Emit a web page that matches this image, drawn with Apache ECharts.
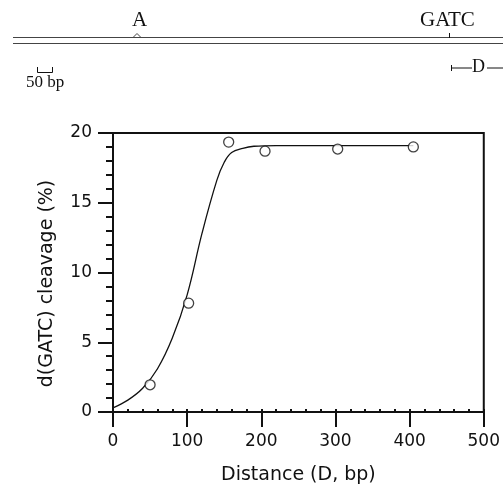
<!DOCTYPE html>
<html>
<head>
    <meta charset="UTF-8">
    <title>GATC cleavage vs distance</title>
    <script src="https://cdn.jsdelivr.net/npm/echarts@6/dist/echarts.min.js"></script>
    <style>
        html, body {margin: 0; padding: 0; background: #fff;}
        #main {width: 503px; height: 490px;}
    </style>
</head>
<body>
<div id="main"></div>
<script>
    // measured points (open circles)
    var pointX = [50, 102, 156, 205, 303, 405];
    var pointY = [1.95, 7.8, 19.35, 18.7, 18.85, 19.0];

    // fitted curve
    var curveX = [0, 20, 40, 60, 80, 100, 120, 140, 150, 160, 175, 190, 220, 260, 300, 350, 405];
    var curveY = [0.3, 0.85, 1.7, 3.1, 5.3, 8.4, 12.8, 16.6, 17.9, 18.6, 18.9, 19.05, 19.1, 19.1, 19.1, 19.1, 19.1];

    var xTicks = [0, 100, 200, 300, 400, 500];
    var yTicks = [0, 5, 10, 15, 20];

    var pts = pointX.map(function (x, i) { return [x, pointY[i]]; });
    var curve = curveX.map(function (x, i) { return [x, curveY[i]]; });

    var sans = 'DejaVu Sans';
    var ink = '#111';

    var chart = echarts.init(document.getElementById('main'));
    var option = {
        backgroundColor: '#fff',
        animation: false,
        grid: {
            left: 113, top: 133, right: 17, bottom: 76,
            show: true, borderColor: ink, borderWidth: 2
        },
        xAxis: [{
            type: 'value',
            min: xTicks[0], max: xTicks[xTicks.length - 1], interval: 100,
            name: 'Distance (D, bp)',
            nameLocation: 'middle', nameGap: 54,
            nameTextStyle: {fontFamily: sans, fontSize: 19, color: ink},
            axisLine: {show: true, lineStyle: {color: ink, width: 2}},
            axisTick: {show: true, length: 15, lineStyle: {color: ink, width: 2}},
            axisLabel: {margin: 21, fontFamily: sans, fontSize: 17, color: ink},
            splitLine: {show: false}
        }, {
            // inward minor ticks along the bottom
            type: 'value', position: 'bottom',
            min: 0, max: 500, interval: 20,
            axisLine: {show: false},
            axisTick: {show: true, inside: true, length: 3, lineStyle: {color: ink, width: 2}},
            axisLabel: {show: false},
            splitLine: {show: false}
        }],
        yAxis: {
            type: 'value',
            min: yTicks[0], max: yTicks[yTicks.length - 1], interval: 5,
            name: 'd(GATC) cleavage (%)',
            nameLocation: 'middle', nameGap: 56,
            nameTextStyle: {fontFamily: sans, fontSize: 19, color: ink, padding: [0, 22, 0, 0]},
            axisLine: {show: true, lineStyle: {color: ink, width: 2}},
            axisTick: {show: true, length: 15, lineStyle: {color: ink, width: 2}},
            minorTick: {show: true, splitNumber: 5, length: 7, lineStyle: {color: ink, width: 2}},
            axisLabel: {margin: 21, fontFamily: sans, fontSize: 17, color: ink},
            splitLine: {show: false}
        },
        series: [{
            type: 'line',
            data: curve,
            smooth: 0.4,
            showSymbol: false,
            lineStyle: {color: ink, width: 1.3},
            z: 2
        }, {
            type: 'scatter',
            data: pts,
            symbol: 'circle',
            symbolSize: 10,
            itemStyle: {color: '#fff', borderColor: ink, borderWidth: 1.3},
            z: 3
        }],
        graphic: [
            // map strip at the top
            {type: 'line', shape: {x1: 13, y1: 37.5, x2: 503, y2: 37.5}, style: {stroke: '#444', lineWidth: 1}},
            {type: 'line', shape: {x1: 13, y1: 43.5, x2: 503, y2: 43.5}, style: {stroke: '#444', lineWidth: 1}},
            {type: 'polyline', shape: {points: [[133, 37.5], [137, 33.5], [141, 37.5]]}, style: {stroke: '#444', lineWidth: 1, fill: null}},
            {type: 'text', left: 132, top: 10, style: {text: 'A', font: '21px "Liberation Serif"', fill: ink}},
            {type: 'text', left: 420, top: 10, style: {text: 'GATC', font: '21px "Liberation Serif"', fill: ink}},
            {type: 'line', shape: {x1: 449.5, y1: 33, x2: 449.5, y2: 38}, style: {stroke: ink, lineWidth: 1}},
            // D bracket
            {type: 'line', shape: {x1: 451.5, y1: 65, x2: 451.5, y2: 71}, style: {stroke: ink, lineWidth: 1}},
            {type: 'line', shape: {x1: 451, y1: 68, x2: 472, y2: 68}, style: {stroke: ink, lineWidth: 1}},
            {type: 'text', left: 472, top: 58, style: {text: 'D', font: '18px "Liberation Serif"', fill: ink}},
            {type: 'line', shape: {x1: 487, y1: 68, x2: 503, y2: 68}, style: {stroke: ink, lineWidth: 1}},
            // 50 bp scale bar
            {type: 'polyline', shape: {points: [[37.5, 67], [37.5, 72.5], [52.5, 72.5], [52.5, 67]]}, style: {stroke: ink, lineWidth: 1, fill: null}},
            {type: 'text', left: 26, top: 74, style: {text: '50 bp', font: '17px "Liberation Serif"', fill: ink}}
        ]
    };
    chart.setOption(option);
</script>
</body>
</html>
